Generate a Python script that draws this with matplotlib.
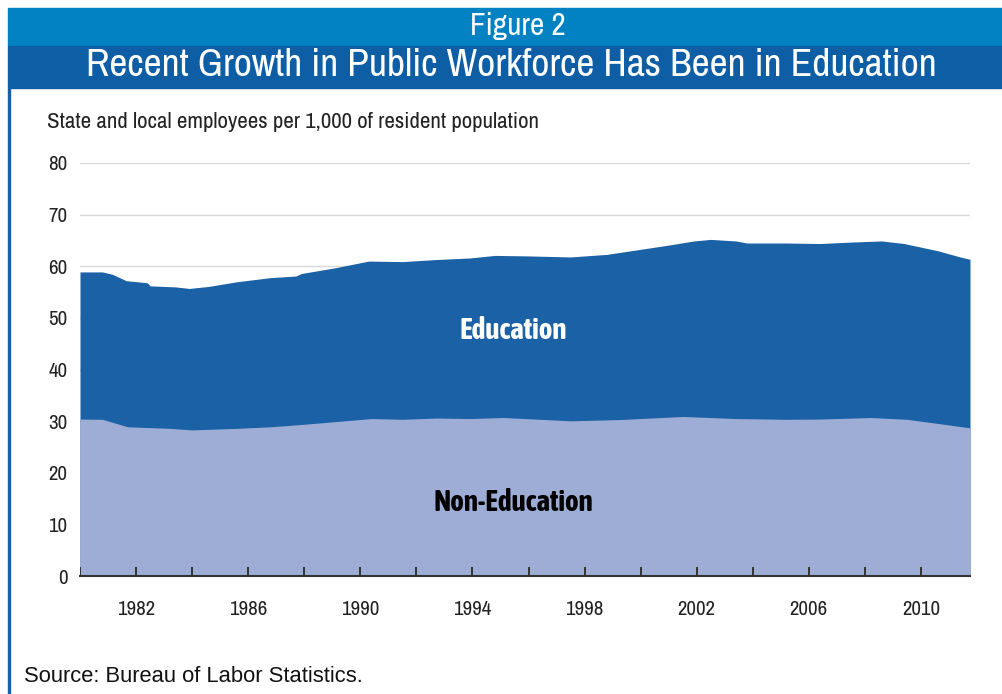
import matplotlib
matplotlib.use("Agg")
import matplotlib.pyplot as plt
from matplotlib import font_manager
import numpy as np
from matplotlib.patches import Rectangle

# values (employees per 1,000 residents)
total_years = [1980.0, 1980.8, 1981.15, 1981.65, 1982.4, 1982.5, 1983.4, 1983.9, 1984.6,
               1985.6, 1986.8, 1987.7, 1987.9, 1989.1, 1990.3, 1991.5, 1992.7, 1993.9,
               1994.8, 1996.0, 1997.5, 1998.8, 1999.9, 2001.0, 2001.9, 2002.5, 2003.4,
               2003.8, 2005.2, 2006.4, 2007.6, 2008.6, 2009.4, 2010.6, 2011.4, 2011.75]
total = [58.9, 58.9, 58.45, 57.2, 56.8, 56.2, 56.0, 55.7, 56.1,
         57.0, 57.8, 58.1, 58.6, 59.7, 61.0, 60.9, 61.3, 61.6,
         62.1, 62.0, 61.8, 62.3, 63.2, 64.1, 64.9, 65.2, 64.9,
         64.5, 64.5, 64.4, 64.7, 64.9, 64.4, 63.0, 61.8, 61.35]

nonedu_years = [1980.0, 1980.8, 1981.7, 1983.2, 1984.0, 1985.6, 1986.8, 1987.9, 1989.1,
                1990.4, 1991.5, 1992.7, 1993.9, 1995.1, 1997.5, 1999.25, 2001.5, 2003.4,
                2005.2, 2006.4, 2008.2, 2009.5, 2010.6, 2011.75]
nonedu = [30.4, 30.35, 28.9, 28.6, 28.3, 28.6, 28.9, 29.35, 29.9,
          30.5, 30.35, 30.6, 30.5, 30.7, 30.06, 30.3, 30.9, 30.5,
          30.35, 30.4, 30.7, 30.35, 29.55, 28.7]

x_labels = ["1982", "1986", "1990", "1994", "1998", "2002", "2006", "2010"]

# pick a narrow face if one is around (prefer one that also has a bold cut)
fonts = font_manager.fontManager.ttflist
narrow = sorted({f.name for f in fonts if "Narrow" in f.name or "Condensed" in f.name})
def has_bold(n):
    return any(f.name == n and (f.weight == "bold" or (isinstance(f.weight, int) and f.weight >= 600))
               for f in fonts)
bold_narrow = [n for n in narrow if has_bold(n)]
cond = [narrow[0], "DejaVu Sans"] if narrow else ["DejaVu Sans"]
cond_b = [bold_narrow[0], "DejaVu Sans"] if bold_narrow else cond

W, H = 1002, 694
fig = plt.figure(figsize=(W / 100, H / 100), dpi=100)

# header bands and left border
fig.patches.append(Rectangle((8 / W, 1 - 46 / H), 1 - 8 / W, 38 / H,
                             transform=fig.transFigure, color="#0382c3", zorder=0))
fig.patches.append(Rectangle((8 / W, 1 - 88 / H), 1 - 8 / W, 42 / H,
                             transform=fig.transFigure, color="#0e5ea5", zorder=0))
fig.patches.append(Rectangle((8 / W, 0), 2 / W, 1 - 88 / H,
                             transform=fig.transFigure, color="#1463aa", zorder=0))
fig.text(518 / W, 1 - 26 / H, "Figure 2", color="white", fontsize=22.5,
         family=cond, ha="center", va="center")
fig.text(511 / W, 1 - 65 / H, "Recent Growth in Public Workforce Has Been in Education",
         color="white", fontsize=28.5, family=cond, ha="center", va="center")

ax = fig.add_axes([80 / W, 1 - 576 / H, 890 / W, 413 / H])
ax.set_xlim(1980, 2011.75)
ax.set_ylim(0, 80)

# gridlines behind everything
for yv in range(10, 81, 10):
    ax.axhline(yv, color="#d9d9d9", lw=1, zorder=1)

# stacked areas: non-education on the bottom, total on top
ax.fill_between(total_years, 0, total, color="#1a61a5", lw=0, zorder=2)
ax.fill_between(nonedu_years, 0, nonedu, color="#9eadd6", lw=0, zorder=3)

ax.set_yticks(np.arange(0, 81, 10))
for s in ["top", "right", "left"]:
    ax.spines[s].set_visible(False)
ax.spines["bottom"].set_color("#333333")
ax.spines["bottom"].set_linewidth(1.5)
ax.spines["bottom"].set_zorder(6)
ax.tick_params(axis="y", length=0, pad=9, labelsize=15, labelcolor="#222222")
ax.set_xticks([int(v) for v in x_labels])
ax.set_xticklabels(x_labels)
ax.tick_params(axis="x", length=0, pad=17, labelsize=15, labelcolor="#222222")
for lab in ax.get_xticklabels() + ax.get_yticklabels():
    lab.set_family(cond)

# inward tick marks every two years, drawn on top of the areas
tick_years = np.arange(1980, 2011, 2)
ax.vlines(tick_years, 0, 9 / 413, transform=ax.get_xaxis_transform(),
          color="#333333", lw=1.4, zorder=7)

fig.text(47 / W, 1 - 122 / H, "State and local employees per 1,000 of resident population",
         fontsize=16.5, family=cond, color="#222222", va="center")
ax.text(1995.45, 47.6, "Education", color="white", fontsize=21, fontweight="bold",
        family=cond_b, ha="center", va="center", zorder=8)
ax.text(1995.45, 14.3, "Non-Education", color="black", fontsize=21, fontweight="bold",
        family=cond_b, ha="center", va="center", zorder=8)

fig.text(24 / W, 1 - 676 / H, "Source: Bureau of Labor Statistics.", fontsize=15.8,
         family=["Liberation Sans", "DejaVu Sans"], color="#111111", va="center")

fig.savefig("out.png", dpi=100)
